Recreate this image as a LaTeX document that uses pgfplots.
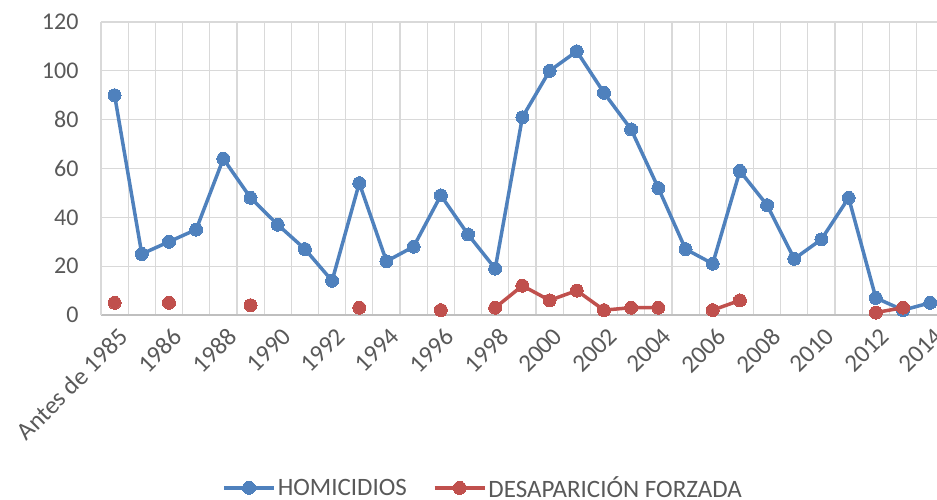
\documentclass[border=0pt]{standalone}
\usepackage{pgfplots}
\pgfplotsset{compat=1.18}
\usepackage{fontspec}
\setmainfont{Carlito}
\definecolor{cblue}{HTML}{4F81BD}
\definecolor{cred}{HTML}{C0504D}
\definecolor{ctext}{HTML}{595959}
\definecolor{cgrid}{HTML}{D9D9D9}
\begin{document}
\begin{tikzpicture}[x=1pt,y=1pt]
\begin{axis}[
  at={(101pt,184pt)}, anchor=south west,
  scale only axis, width=836pt, height=293pt,
  xmin=-0.5, xmax=30.25, ymin=0, ymax=120,
  xtick={0,2,...,30},
  xticklabels={Antes de 1985,1986,1988,1990,1992,1994,1996,1998,2000,2002,2004,2006,2008,2010,2012,2014},
  minor xtick={-0.5,0.5,...,29.5},
  ytick={0,20,...,120},
  xminorgrids=true, ymajorgrids=true, xmajorgrids=false,
  grid style={cgrid, line width=1.2pt},
  minor grid style={cgrid, line width=1.2pt},
  major tick length=0pt, minor tick length=0pt,
  axis x line*=bottom, axis y line*=left,
  axis line style={cgrid, line width=1.5pt, -},
  x axis line style={draw=black!25},
  x tick label style={rotate=45, anchor=north east, inner sep=1pt, font=\fontsize{25}{28}\selectfont, text=ctext, yshift=-9pt, xshift=-5pt},
  y tick label style={font=\fontsize{24}{28}\selectfont, text=ctext, xshift=-19pt},
  /pgf/number format/assume math mode=true,
  clip=false,
  unbounded coords=jump,
  legend columns=2,
  legend style={at={(0.457,-0.59)}, anchor=center, draw=none, fill=none,
    font=\fontsize{25}{28}\selectfont, text=ctext,
    /tikz/every even column/.append style={column sep=24pt}},
  legend image code/.code={\draw[mark repeat=2,mark phase=2] plot coordinates {(0pt,0pt)(25pt,0pt)(50pt,0pt)};},
]
\addplot[cblue, line width=3.5pt, mark=*, mark size=6.5pt, mark options={solid, fill=cblue, draw=cblue, line width=0pt}] coordinates {
(0,90)(1,25)(2,30)(3,35)(4,64)(5,48)(6,37)(7,27)(8,14)(9,54)(10,22)(11,28)(12,49)(13,33)(14,19)(15,81)(16,100)(17,108)(18,91)(19,76)(20,52)(21,27)(22,21)(23,59)(24,45)(25,23)(26,31)(27,48)(28,7)(29,2)(30,5)
};
\addlegendentry{HOMICIDIOS}
\addplot[cred, line width=3.5pt, mark=*, mark size=6.5pt, mark options={solid, fill=cred, draw=cred, line width=0pt}] coordinates {
(0,5)(1,nan)(2,5)(3,nan)(4,nan)(5,4)(6,nan)(7,nan)(8,nan)(9,3)(10,nan)(11,nan)(12,2)(13,nan)(14,3)(15,12)(16,6)(17,10)(18,2)(19,3)(20,3)(21,nan)(22,2)(23,6)(24,nan)(25,nan)(26,nan)(27,nan)(28,1)(29,3)(30,nan)
};
\addlegendentry{DESAPARICIÓN FORZADA}
\end{axis}
\pgfresetboundingbox
\path[use as bounding box] (0,0) rectangle (937pt,499pt);
\end{tikzpicture}
\end{document}
